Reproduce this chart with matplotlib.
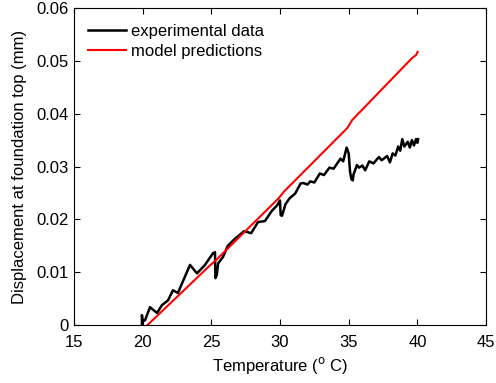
import matplotlib
matplotlib.use('Agg')
import matplotlib.pyplot as plt

plt.rcParams['font.family'] = ['Liberation Sans', 'DejaVu Sans']

# experimental data (temperature in C, displacement in mm)
exp_temp = [19.95, 19.95, 20.0, 20.17, 20.54, 21.05, 21.41, 21.85, 22.21, 22.57,
            23.45, 23.96, 24.54, 25.12, 25.27, 25.3, 25.4, 25.5, 25.85, 26.2,
            26.7, 27.4, 27.9, 28.4, 28.9, 29.4, 29.8, 30.0, 30.05, 30.15,
            30.4, 30.7, 31.1, 31.5, 31.7, 32.0, 32.2, 32.5, 32.9, 33.2,
            33.6, 33.9, 34.4, 34.6, 34.85, 35.0, 35.1, 35.2, 35.3, 35.35,
            35.6, 35.75, 36.0, 36.2, 36.5, 36.8, 37.2, 37.4, 37.8, 38.0,
            38.2, 38.4, 38.6, 38.75, 38.9, 39.05, 39.3, 39.45, 39.6, 39.75,
            39.9, 40.0, 40.05]
exp_disp = [0.0, 0.0019, 0.0008, 0.0009, 0.0034, 0.0023, 0.0038, 0.0047, 0.0066, 0.0061,
            0.0114, 0.0098, 0.0114, 0.0136, 0.0138, 0.0089, 0.0095, 0.0117, 0.0129, 0.0150,
            0.0163, 0.0178, 0.0174, 0.0195, 0.0197, 0.0216, 0.0227, 0.0236, 0.0208, 0.0207,
            0.0229, 0.0240, 0.0249, 0.0268, 0.0269, 0.0266, 0.0272, 0.0270, 0.0287, 0.0284,
            0.0298, 0.0296, 0.0315, 0.0310, 0.0336, 0.0325, 0.0290, 0.0276, 0.0274, 0.0285,
            0.0303, 0.0298, 0.0302, 0.0293, 0.0310, 0.0306, 0.0318, 0.0312, 0.0320, 0.0308,
            0.0325, 0.0321, 0.0338, 0.0330, 0.0352, 0.0338, 0.0347, 0.0336, 0.0350, 0.0340,
            0.0352, 0.0345, 0.0352]

# model predictions
model_temp = [20.35, 24.9, 25.3, 29.9, 30.3, 34.9, 35.25, 39.6, 39.9, 40.02]
model_disp = [0.0, 0.0113, 0.0122, 0.0240, 0.0253, 0.0373, 0.0388, 0.0505, 0.0511, 0.0517]

x_ticks = [15, 20, 25, 30, 35, 40, 45]
y_ticks = [0, 0.01, 0.02, 0.03, 0.04, 0.05, 0.06]
y_labels = ['0', '0.01', '0.02', '0.03', '0.04', '0.05', '0.06']

fig = plt.figure(figsize=(4.96, 3.83), dpi=100)
ax = fig.add_axes([0.149, 0.151, 0.831, 0.828])

ax.plot(exp_temp, exp_disp, color='black', linewidth=1.8, label='experimental data')
ax.plot(model_temp, model_disp, color='red', linewidth=1.5, label='model predictions')

ax.set_xlim(15, 45)
ax.set_ylim(0, 0.06)
ax.set_xticks(x_ticks)
ax.set_yticks(y_ticks)
ax.set_yticklabels(y_labels)
ax.tick_params(direction='in', length=4, top=True, right=True, labelsize=12, width=0.8)
ax.tick_params(axis='x', pad=7)

ax.set_xlabel('Temperature ($^{\\rm o}$ C)', fontsize=12, labelpad=4)
ax.set_ylabel('Displacement at foundation top (mm)', fontsize=12, labelpad=7)

ax.legend(loc='upper left', bbox_to_anchor=(0.034, 0.95), frameon=False, fontsize=12,
          handlelength=2.3, handletextpad=0.3, borderaxespad=0, borderpad=0,
          labelspacing=0.28)

fig.savefig('out.png', dpi=100)
